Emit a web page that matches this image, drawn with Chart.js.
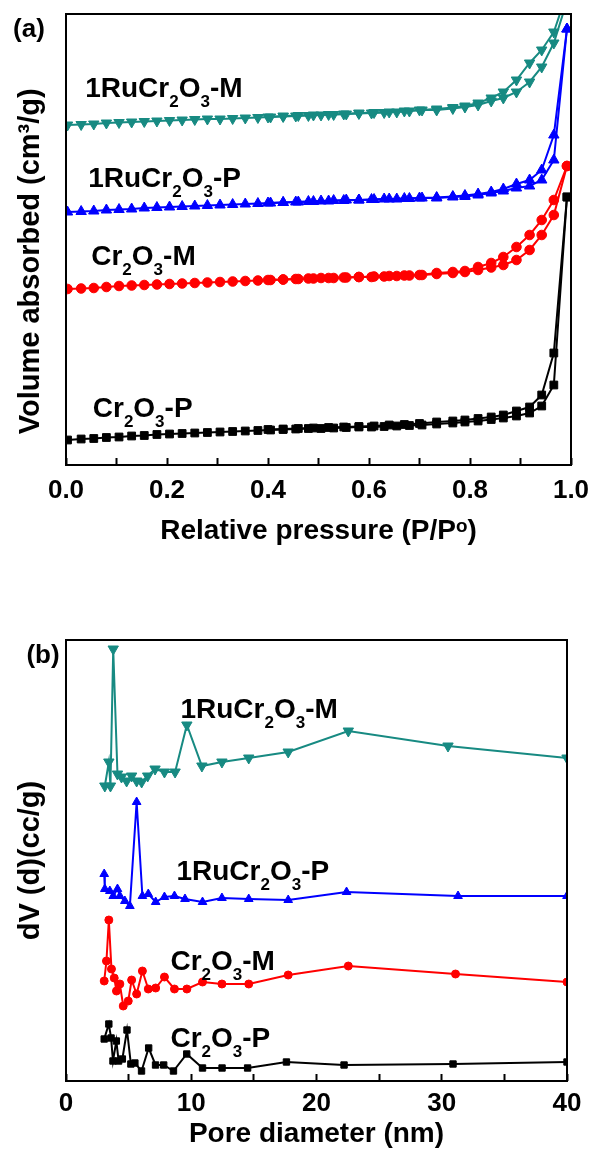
<!DOCTYPE html>
<html>
<head>
<meta charset="utf-8">
<script src="https://cdn.jsdelivr.net/npm/chart.js@4.4.1/dist/chart.umd.min.js"></script>
<style>
    html, body { margin: 0; padding: 0; background: #fff; overflow: hidden; }
    body { width: 593px; height: 1149px; position: relative; }
    canvas { position: absolute; left: 0; }
    #isoterma { top: 0; }
    #poros { top: 600px; }
</style>
</head>
<body>
<canvas id="isoterma" width="593" height="560"></canvas>
<canvas id="poros" width="593" height="560"></canvas>
<script>
// (a) isotermas - pressão relativa (P/Po)
const pressaoAds = [0.003, 0.03, 0.055, 0.08, 0.105, 0.13, 0.155, 0.18, 0.205, 0.23, 0.255, 0.28, 0.305, 0.33, 0.355, 0.38, 0.405, 0.43, 0.455, 0.48, 0.505, 0.53, 0.555, 0.58, 0.605, 0.63, 0.655, 0.68, 0.705, 0.734, 0.766, 0.79, 0.816, 0.842, 0.866, 0.892, 0.918, 0.942, 0.966, 0.992];
const pressaoDes = [0.992, 0.966, 0.942, 0.918, 0.892, 0.866, 0.842, 0.816, 0.79, 0.766, 0.734, 0.70, 0.67, 0.64, 0.61, 0.58, 0.55, 0.52, 0.49, 0.46, 0.43, 0.40];

// volume adsorvido (unidades arbitrárias, curvas deslocadas)
const cr2o3P_ads = [25, 26, 26.5, 27.5, 28, 29, 29.5, 30.5, 31, 31.5, 32, 32.5, 33, 33.5, 34, 34.5, 35, 35.5, 36, 36.5, 36.5, 37, 37.5, 38, 38, 38.5, 39, 39.5, 40, 41, 42, 43, 44, 45.5, 47, 49, 52, 59, 80, 268];
const cr2o3P_des = [268, 112, 70, 58, 54, 50, 48, 46.5, 45, 44, 43, 41.5, 40.5, 40, 39, 38.5, 38, 37.5, 37, 36.5, 36, 35.5];
const cr2o3M_ads = [176, 176.5, 177, 178, 179, 179.5, 180, 180.5, 181, 181.5, 182, 182.5, 183, 183.5, 184, 184.5, 185, 185.5, 186, 186.5, 187, 187, 187.5, 188, 188, 188.5, 189, 189.5, 190, 191, 192, 193, 195, 197.5, 200, 205, 215, 230, 250, 299];
const cr2o3M_des = [299, 265, 245, 230, 218, 208, 202, 198, 194, 193, 192, 190, 189.5, 189, 188.5, 188, 187.5, 187, 186.5, 186, 185.5, 185];
const ruP_ads = [253, 253.5, 254, 255, 255.5, 256, 257, 257.5, 258, 258.5, 259, 259.5, 260, 260.5, 261, 261.5, 262, 262.5, 263, 263.5, 264, 264.5, 265, 265, 265.5, 266, 266, 266.5, 267, 267, 268, 268.5, 270, 272, 274, 277, 279, 285, 305, 436];
const ruP_des = [436, 330, 295, 285, 281, 276, 273, 271, 269.5, 268.5, 267.5, 267, 266.5, 266, 265.5, 265, 264.5, 264, 263.5, 263, 262.5, 262];
const ruM_ads = [340, 340.5, 341, 342, 342.5, 343, 343.5, 344, 344.5, 345, 345.5, 346, 346, 346.5, 347, 347.5, 348, 348.5, 349, 349.5, 350, 350.5, 351, 351.5, 352, 352.5, 353, 354, 355, 355, 356.5, 358, 360, 364, 367, 373, 383, 398, 422, 464];
const ruM_des = [472, 433, 415, 402, 385, 373, 367, 362, 359, 357.5, 356, 355, 354, 353, 352.5, 352, 351, 350.5, 350, 349.5, 349, 348];

// (b) distribuição de poros - diâmetro (nm) e dV(d)
const diamCr2o3P = [3.05, 3.42, 3.6, 3.75, 4.02, 4.2, 4.5, 4.87, 5.18, 5.5, 6.03, 6.6, 7.15, 7.8, 8.58, 9.64, 10.9, 12.46, 14.5, 17.6, 22.2, 30.9, 40];
const dvCr2o3P = [42, 57, 43, 20, 40, 20, 22, 51, 17, 18, 10, 33, 16, 16, 10, 27, 13, 13, 13, 19, 16, 17, 19];
const diamCr2o3M = [3.05, 3.23, 3.42, 3.63, 3.85, 4.03, 4.3, 4.57, 4.97, 5.24, 5.64, 6.1, 6.57, 7.16, 7.86, 8.66, 9.65, 10.9, 12.45, 14.59, 17.74, 22.54, 31.1, 40];
const dvCr2o3M = [100, 120, 161, 112, 103, 90, 97, 75, 80, 101, 87, 110, 92, 93, 104, 92, 92, 99, 97, 97, 106, 115, 107, 99];
const diamRuP = [3.05, 3.10, 3.5, 3.77, 4.11, 4.3, 4.7, 5.1, 5.64, 6.1, 6.57, 7.16, 7.86, 8.66, 9.5, 10.9, 12.45, 14.59, 17.74, 22.4, 31.3, 40];
const dvRuP = [207, 192, 190, 185, 192, 185, 180, 175, 279, 185, 187, 179, 184, 185, 182, 179, 183, 182, 181, 189, 185, 185];
const diamRuM = [3.10, 3.42, 3.55, 3.77, 4.11, 4.43, 4.84, 5.24, 5.64, 6.04, 6.52, 7.11, 7.86, 8.71, 9.65, 10.85, 12.45, 14.59, 17.74, 22.54, 30.5, 40];
const dvRuM = [295, 319, 295, 432, 307, 304, 300, 305, 300, 299, 305, 312, 309, 309, 356, 315, 319, 323, 329, 350, 335, 323];

// nomes das amostras ("_" = subscrito)
const rotulosA = [
    { texto: '1RuCr_2O_3-M', x: 0.038, y: 368 },
    { texto: '1RuCr_2O_3-P', x: 0.044, y: 278 },
    { texto: 'Cr_2O_3-M', x: 0.05, y: 200 },
    { texto: 'Cr_2O_3-P', x: 0.053, y: 48 }
];
const rotulosB = [
    { texto: '1RuCr_2O_3-M', x: 9.14, y: 363 },
    { texto: '1RuCr_2O_3-P', x: 8.82, y: 201 },
    { texto: 'Cr_2O_3-M', x: 8.34, y: 111 },
    { texto: 'Cr_2O_3-P', x: 8.34, y: 34 }
];

const corPreto = '#000000';
const corVermelho = '#ff0000';
const corAzul = '#0000ff';
const corVerde = '#178a82';
const fonte = '"Liberation Sans", Arial, sans-serif';

Chart.defaults.font.family = fonte;
Chart.defaults.font.weight = 'bold';
Chart.defaults.color = '#000';

// Função para juntar x e y
function montarPontos(xs, ys) {
    return xs.map((x, i) => ({ x: x, y: ys[i] }));
}

// Função para criar uma série
function serie(xs, ys, cor, marcador, raio, rotacao) {
    return {
        data: montarPontos(xs, ys),
        borderColor: cor,
        backgroundColor: cor,
        borderWidth: 2,
        pointStyle: marcador,
        pointRadius: raio,
        pointRotation: rotacao || 0,
        pointBorderWidth: 1,
        showLine: true,
        tension: 0
    };
}

// moldura em volta da área do gráfico
const moldura = {
    id: 'moldura',
    afterDraw(chart) {
        const { ctx, chartArea: a } = chart;
        ctx.save();
        ctx.strokeStyle = '#000';
        ctx.lineWidth = 2;
        ctx.strokeRect(a.left, a.top, a.right - a.left, a.bottom - a.top);
        ctx.restore();
    }
};

// nomes das amostras com subscrito e letra do painel
const rotulos = {
    id: 'rotulos',
    afterDatasetsDraw(chart, args, opts) {
        const ctx = chart.ctx;
        const sx = chart.scales.x;
        const sy = chart.scales.y;
        ctx.save();
        ctx.fillStyle = '#000';
        ctx.textBaseline = 'alphabetic';
        ctx.textAlign = 'left';
        opts.itens.forEach(item => {
            let x = sx.getPixelForValue(item.x);
            const y = sy.getPixelForValue(item.y);
            item.texto.split(/(_\d)/).forEach(parte => {
                if (!parte) return;
                const sub = parte[0] === '_';
                const t = sub ? parte.slice(1) : parte;
                ctx.font = sub ? 'bold 17px ' + fonte : 'bold 28px ' + fonte;
                ctx.fillText(t, x, sub ? y + 10 : y);
                x += ctx.measureText(t).width;
            });
        });
        ctx.font = 'bold 26px ' + fonte;
        ctx.textAlign = 'center';
        ctx.textBaseline = 'middle';
        ctx.fillText(opts.painel.texto, opts.painel.x, opts.painel.y);
        ctx.restore();
    }
};

function eixoX(min, max, passo, rotulo, titulo, altura, pad, padTitulo) {
    return {
        type: 'linear',
        min: min,
        max: max,
        ticks: {
            stepSize: passo,
            autoSkip: false,
            maxRotation: 0,
            padding: pad,
            font: { size: 26, weight: 'bold' },
            callback: rotulo
        },
        grid: {
            display: true,
            drawOnChartArea: false,
            drawTicks: true,
            tickLength: -7,
            tickColor: '#000',
            tickWidth: 2
        },
        border: { display: false },
        title: {
            display: true,
            text: titulo,
            font: { size: 28, weight: 'bold' },
            padding: { top: 0, bottom: padTitulo }
        },
        afterFit(escala) {
            escala.height = altura;
            escala.paddingLeft = 0;
            escala.paddingRight = 0;
        }
    };
}

function eixoY(min, max, titulo) {
    return {
        type: 'linear',
        min: min,
        max: max,
        ticks: { display: false },
        grid: { display: false },
        border: { display: false },
        title: {
            display: true,
            text: titulo,
            font: { size: 29, weight: 'bold' },
            padding: { top: 14, bottom: 0 }
        },
        afterFit(escala) { escala.width = 66; }
    };
}

// Gráfico (a)
new Chart(document.getElementById('isoterma').getContext('2d'), {
    type: 'scatter',
    data: {
        datasets: [
            serie(pressaoAds, cr2o3P_ads, corPreto, 'rect', 5.5),
            serie(pressaoDes, cr2o3P_des, corPreto, 'rect', 5.5),
            serie(pressaoAds, cr2o3M_ads, corVermelho, 'circle', 4.8),
            serie(pressaoDes, cr2o3M_des, corVermelho, 'circle', 4.8),
            serie(pressaoAds, ruP_ads, corAzul, 'triangle', 6),
            serie(pressaoDes, ruP_des, corAzul, 'triangle', 6),
            serie(pressaoAds, ruM_ads, corVerde, 'triangle', 6, 180),
            serie(pressaoDes, ruM_des, corVerde, 'triangle', 6, 180)
        ]
    },
    options: {
        responsive: false,
        animation: false,
        devicePixelRatio: 1,
        layout: { padding: { top: 14, right: 22, left: 0, bottom: 0 } },
        plugins: {
            legend: { display: false },
            tooltip: { enabled: false },
            rotulos: { itens: rotulosA, painel: { texto: '(a)', x: 29, y: 30 } }
        },
        scales: {
            x: eixoX(0, 1, 0.1, v => Math.round(v * 10) % 2 === 0 ? v.toFixed(1) : '',
                'Relative pressure (P/P\u1d52)', 95, 17, 12),
            y: eixoY(0, 451, 'Volume absorbed (cm\u00b3/g)\u2002\u2002\u2002')
        }
    },
    plugins: [rotulos, moldura]
});

// Gráfico (b)
new Chart(document.getElementById('poros').getContext('2d'), {
    type: 'scatter',
    data: {
        datasets: [
            serie(diamCr2o3P, dvCr2o3P, corPreto, 'rect', 4.5),
            serie(diamCr2o3M, dvCr2o3M, corVermelho, 'circle', 4),
            serie(diamRuP, dvRuP, corAzul, 'triangle', 5),
            serie(diamRuM, dvRuM, corVerde, 'triangle', 6, 180)
        ]
    },
    options: {
        responsive: false,
        animation: false,
        devicePixelRatio: 1,
        layout: { padding: { top: 40, right: 26, left: 0, bottom: 0 } },
        plugins: {
            legend: { display: false },
            tooltip: { enabled: false },
            rotulos: { itens: rotulosB, painel: { texto: '(b)', x: 43, y: 56 } }
        },
        scales: {
            x: eixoX(0, 40, 5, v => v % 10 === 0 ? String(v) : '',
                'Pore diameter (nm)', 79, 14, 9),
            y: eixoY(0, 441, 'dV (d)(cc/g)')
        }
    },
    plugins: [rotulos, moldura]
});
</script>
</body>
</html>
